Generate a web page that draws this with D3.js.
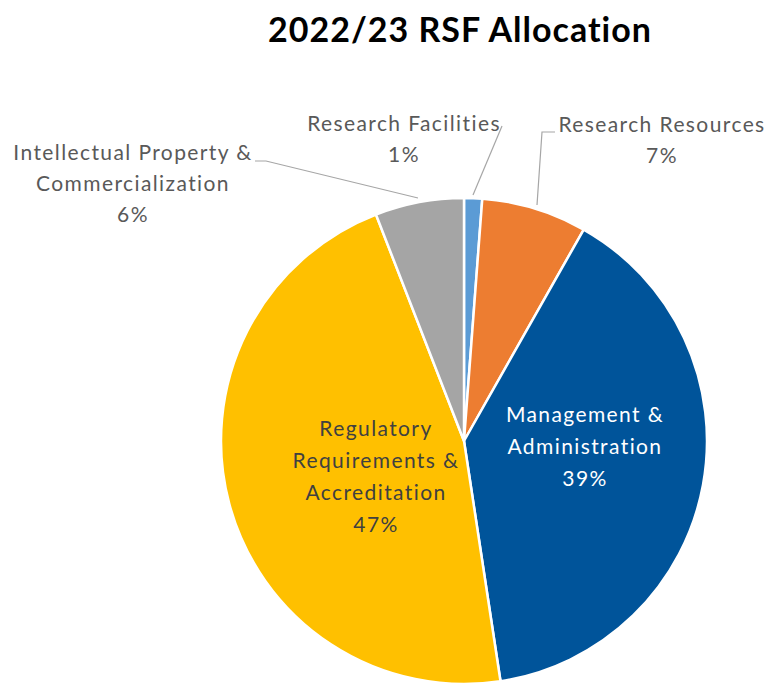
<!DOCTYPE html>
<html><head><meta charset="utf-8">
<script src="https://cdn.jsdelivr.net/npm/d3@7"></script>
<style>body{margin:0;background:#fff}svg{display:block}</style>
</head><body>
<svg id="c" width="769" height="686"></svg>
<script>
const categories = ["Research Facilities","Research Resources","Management & Administration","Regulatory Requirements & Accreditation","Intellectual Property & Commercialization"];
const values = [1.2, 7.0, 39.4, 46.5, 5.9];
const pctLabels = ["1%","7%","39%","47%","6%"];
const labelLines = [["Research Facilities"],["Research Resources"],["Management &","Administration"],["Regulatory","Requirements &","Accreditation"],["Intellectual Property &","Commercialization"]];
const colors = ["#5B9BD5","#ED7D31","#00549A","#FFC000","#A5A5A5"];
const title = "2022/23 RSF Allocation";

const svg = d3.select("#c");
const cx = 464, cy = 441, R = 243;

svg.append("text").attr("x", 460).attr("y", 42).attr("text-anchor","middle")
  .attr("font-family","Lato, 'Open Sans', sans-serif").attr("font-weight","bold")
  .attr("font-size", 34).attr("letter-spacing", 1).attr("fill","#000").text(title);

const pie = d3.pie().sort(null).value(d => d)(values);
const arc = d3.arc().innerRadius(0).outerRadius(R);
const g = svg.append("g").attr("transform",`translate(${cx},${cy})`);
g.selectAll("path").data(pie).join("path")
  .attr("d", arc).attr("fill",(d,i)=>colors[i])
  .attr("stroke","#fff").attr("stroke-width",2.5).attr("stroke-linejoin","round");

const labelPos = [
  {x:404, y:131, fill:"#595959", lh:31},
  {x:662, y:132, fill:"#595959", lh:31},
  {x:585, y:422, fill:"#ffffff", lh:32},
  {x:376, y:436, fill:"#404040", lh:32},
  {x:133, y:160, fill:"#595959", lh:31}
];
const font = "Lato, 'Open Sans', sans-serif";
labelLines.forEach((lines,i)=>{
  const p = labelPos[i];
  const t = svg.append("text").attr("text-anchor","middle")
    .attr("font-family",font).attr("font-size",21).attr("letter-spacing",1.4).attr("fill",p.fill);
  const all = lines.concat([pctLabels[i]]);
  all.forEach((s,k)=>{
    t.append("tspan").attr("x",p.x).attr("y",p.y + k*p.lh).text(s);
  });
});

const leaders = [
  [[502,126],[473,195]],
  [[555,132],[542,132],[537,205]],
  [[255,161],[266,161],[418,198]]
];
const line = d3.line();
svg.selectAll("path.leader").data(leaders).join("path").attr("class","leader")
  .attr("d", line).attr("fill","none").attr("stroke","#A6A6A6").attr("stroke-width",1.2);
</script>
</body></html>
